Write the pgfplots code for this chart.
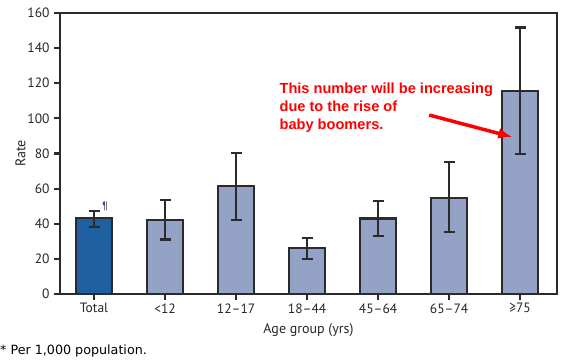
\documentclass[border=0pt]{standalone}
\usepackage{pgfplots}
\pgfplotsset{compat=1.18}
\usetikzlibrary{arrows.meta}
\usepackage{fontspec}
\setmainfont{PT Sans}
\newfontfamily\annfont{Liberation Sans}
\newfontfamily\footfont{DejaVu Sans}
\definecolor{darkbar}{RGB}{31,96,160}
\definecolor{lightbar}{RGB}{148,163,197}
\definecolor{edge}{RGB}{43,43,43}
\begin{document}
\begin{tikzpicture}[x=1pt,y=1pt]
\path[use as bounding box] (-60,-66) rectangle (509,294);
\begin{axis}[
  at={(0,0)}, anchor=south west,
  scale only axis, width=497pt, height=281pt,
  xmin=-0.48, xmax=6.52, ymin=0, ymax=160,
  ytick={0,20,...,160},
  xtick={0,...,6},
  xticklabels={Total,<12,12--17,18--44,45--64,65--74,≥75},
  tick align=outside, tick pos=left,
  major tick length=6pt,
  every tick/.style={edge, line width=2.2pt},
  axis line style={edge, line width=2.2pt},
  tick label style={font=\fontsize{13.5}{15}\selectfont, text=black!85},
  yticklabel style={xshift=-1pt},
  /pgf/number format/assume math mode=true,
  ylabel={Rate}, xlabel={Age group (yrs)},
  label style={font=\fontsize{14}{16}\selectfont, text=black!85},
  ylabel style={at={(axis description cs:0,0.5)}, anchor=south, yshift=31pt},
  xlabel style={yshift=-3pt},
  ybar, bar width=36pt,
  clip=false,
]
\addplot[bar shift=0pt, fill=darkbar, draw=edge, line width=2.2pt,
  error bars/.cd, y dir=both, y explicit,
  error bar style={edge, line width=2.2pt},
  error mark options={edge, line width=2.2pt, mark size=5.5pt, rotate=90}]
  coordinates {(0,43.3) += (0,4.0) -= (0,5.1)};
\addplot[bar shift=0pt, fill=lightbar, draw=edge, line width=2.2pt,
  error bars/.cd, y dir=both, y explicit,
  error bar style={edge, line width=2.2pt},
  error mark options={edge, line width=2.2pt, mark size=5.5pt, rotate=90}]
  coordinates {
  (1,42.2) += (0,11.3) -= (0,11.2)
  (2,61.5) += (0,19.0) -= (0,19.5)
  (3,26.0) += (0,6.0) -= (0,6.0)
  (4,43.0) += (0,10.0) -= (0,10.0)
  (5,54.8) += (0,20.2) -= (0,19.7)
  (6,115.6) += (0,36.1) -= (0,36.0)
  };
\node[font=\fontsize{11}{12}\selectfont, text={rgb,255:red,80;green,70;blue,120}, anchor=south west, inner sep=1pt] at (axis cs:0.1,46.5) {¶};
\node[font=\annfont\bfseries\fontsize{14.6}{18}\selectfont, text=red, align=left, anchor=north west, inner sep=0pt] at (axis cs:2.61,120.5) {This number will be increasing\\due to the rise of\\baby boomers.};
\draw[red, line width=3.5pt, -{Latex[length=14pt,width=11pt]}] (axis cs:4.72,101.9) -- (axis cs:5.89,89.4);
\end{axis}
\node[font=\footfont\fontsize{12.7}{14}\selectfont, anchor=base west, inner sep=0pt] at (-60,-60) {* Per 1,000 population.};
\end{tikzpicture}
\end{document}
